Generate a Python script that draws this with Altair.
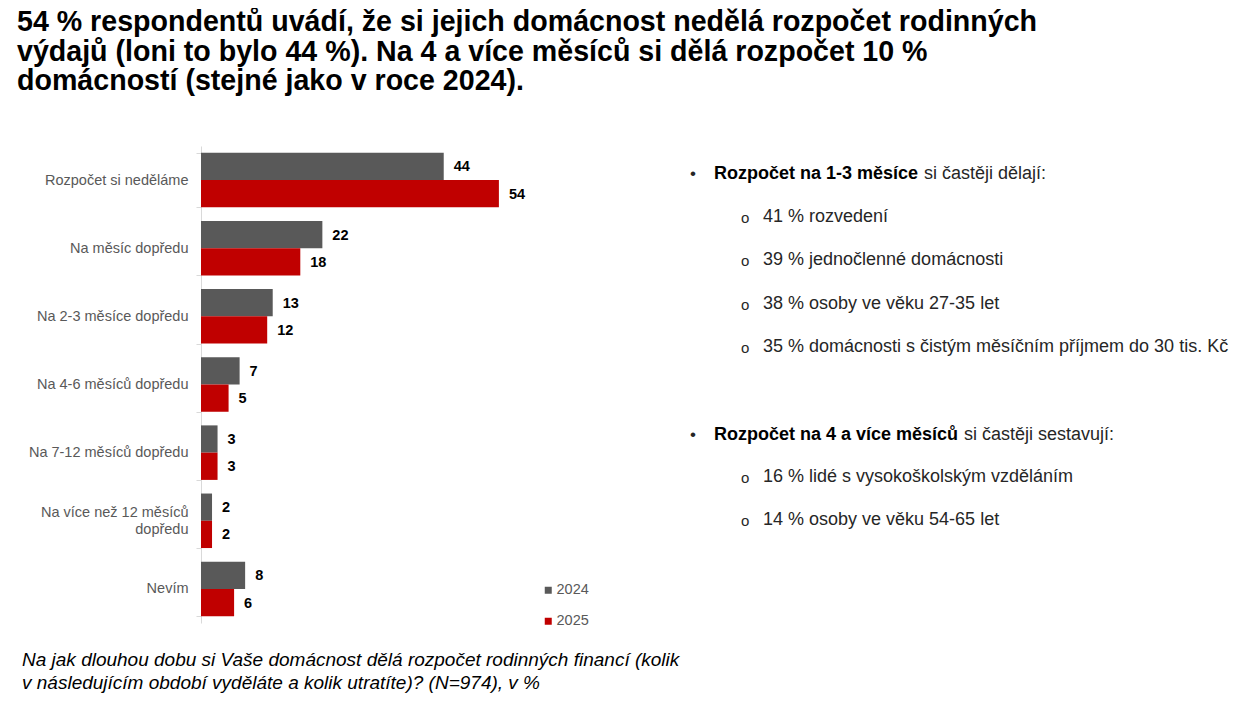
import altair as alt
import pandas as pd

categories = ["Rozpočet si neděláme", "Na měsíc dopředu", "Na 2-3 měsíce dopředu",
              "Na 4-6 měsíců dopředu", "Na 7-12 měsíců dopředu",
              "Na více než 12 měsíců dopředu", "Nevím"]
years = ["2024", "2025"]
v2024 = [44, 22, 13, 7, 3, 2, 8]
v2025 = [54, 18, 12, 5, 3, 2, 6]

title_lines = [
    "54 % respondentů uvádí, že si jejich domácnost nedělá rozpočet rodinných",
    "výdajů (loni to bylo 44 %). Na 4 a více měsíců si dělá rozpočet 10 %",
    "domácností (stejné jako v roce 2024).",
]
foot_lines = [
    "Na jak dlouhou dobu si Vaše domácnost dělá rozpočet rodinných financí (kolik",
    "v následujícím období vyděláte a kolik utratíte)? (N=974), v %",
]
b1_bold = "Rozpočet na 1-3 měsíce"
b1_rest = "si častěji dělají:"
b1_items = ["41 % rozvedení", "39 % jednočlenné domácnosti", "38 % osoby ve věku 27-35 let",
            "35 % domácnosti s čistým měsíčním příjmem do 30 tis. Kč"]
b2_bold = "Rozpočet na 4 a více měsíců"
b2_rest = "si častěji sestavují:"
b2_items = ["16 % lidé s vysokoškolským vzděláním", "14 % osoby ve věku 54-65 let"]

rows = []
for c, a, b in zip(categories, v2024, v2025):
    rows.append({"category": c, "year": "2024", "value": a})
    rows.append({"category": c, "year": "2025", "value": b})
df = pd.DataFrame(rows)

FONT = "Liberation Sans"
W, H = 331, 477
TWO_LINE = "Na více než 12 měsíců dopředu"

y_enc = alt.Y("category:N", sort=categories,
              scale=alt.Scale(paddingInner=0.2, paddingOuter=0.1),
              axis=alt.Axis(title=None, labelFont=FONT, labelFontSize=14.5, labelColor="#595959",
                            tickColor="#d9d9d9", domainColor="#d9d9d9", tickSize=5,
                            labelPadding=8, tickBand="extent", labelLimit=300,
                            labelLineHeight=17,
                            labelOffset={"condition": {"test": f"datum.value == '{TWO_LINE}'", "value": -8.5},
                                         "value": 0},
                            labelExpr=f"datum.label == '{TWO_LINE}' ? ['Na více než 12 měsíců', 'dopředu'] : datum.label"))
yoff = alt.YOffset("year:N", sort=years)
x_enc = alt.X("value:Q", scale=alt.Scale(domain=[0, 60]), axis=None)

base = alt.Chart(df)
bars = base.mark_bar().encode(
    y=y_enc, yOffset=yoff, x=x_enc,
    color=alt.Color("year:N", scale=alt.Scale(domain=years, range=["#595959", "#C00000"]),
                    legend=alt.Legend(title=None, orient="none", legendX=340, legendY=437,
                                      symbolType="square", symbolSize=49, labelFont=FONT,
                                      labelFontSize=14.5, labelColor="#595959", rowPadding=16,
                                      padding=0, labelOffset=1)),
)
labels = base.mark_text(align="left", baseline="middle", dx=10, dy=1, font=FONT, fontSize=14.5,
                        fontWeight="bold", color="#000000").encode(
    y=alt.Y("category:N", sort=categories), yOffset=yoff, x="value:Q", text="value:Q")


def note(text, x, y, size=18, weight="normal", style="normal", color="#262626", align="left"):
    return alt.Chart(pd.DataFrame({"t": [text]})).mark_text(
        align=align, baseline="middle", font=FONT, fontSize=size, fontWeight=weight,
        fontStyle=style, color=color).encode(x=alt.value(x), y=alt.value(y), text="t:N")


layers = [bars, labels]
for i, line in enumerate(title_lines):
    layers.append(note(line, -184, -124 + 29.5 * i, size=28.6, weight="bold", color="#000000"))
for i, line in enumerate(foot_lines):
    layers.append(note(line, -179, 513.5 + 23 * i, size=19, style="italic", color="#000000"))

layers.append(note("•", 489, 28, size=17))
layers.append(note(b1_bold, 513, 28, weight="bold", color="#000000"))
layers.append(note(b1_rest, 723, 28))
for i, item in enumerate(b1_items):
    yy = 71 + 43.3 * i
    layers.append(note("o", 540, yy + 1, size=15))
    layers.append(note(item, 562, yy))

layers.append(note("•", 489, 289, size=17))
layers.append(note(b2_bold, 513, 289, weight="bold", color="#000000"))
layers.append(note(b2_rest, 763, 289))
for i, item in enumerate(b2_items):
    yy = 331 + 43 * i
    layers.append(note("o", 540, yy + 1, size=15))
    layers.append(note(item, 562, yy))

chart = alt.layer(*layers).properties(
    width=W, height=H,
    autosize=alt.AutoSizeParams(type="none"),
    padding={"left": 193, "top": 138, "right": 1231 - 193 - W, "bottom": 686 - 138 - H},
).configure(font=FONT).configure_view(stroke=None)

chart.save("out.html", embed_options={"renderer": "svg", "actions": False})
